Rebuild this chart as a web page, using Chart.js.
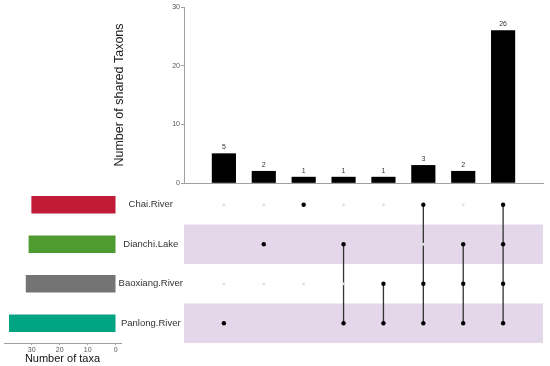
<!DOCTYPE html>
<html>
<head>
<meta charset="utf-8">
<script src="https://cdn.jsdelivr.net/npm/chart.js@4.4.1/dist/chart.umd.min.js"></script>
<style>
body { margin: 0; background: #fff; }
#wrap { position: relative; width: 550px; height: 366px; }
#wrap canvas { position: absolute; left: 0; top: 0; width: 550px; height: 366px; }
</style>
</head>
<body>
<div id="wrap">
  <canvas id="sets" width="550" height="366"></canvas>
  <canvas id="matrix" width="550" height="366"></canvas>
  <canvas id="inter" width="550" height="366"></canvas>
</div>
<script>
// Data
var sets = ["Chai.River", "Dianchi.Lake", "Baoxiang.River", "Panlong.River"];
var setSizes = [30, 31, 32, 38];
var intersectionCounts = [5, 2, 1, 1, 1, 3, 2, 26];
// rows (index in sets) that belong to each intersection column
var intersectionMembers = [[3], [1], [0], [1, 3], [2, 3], [0, 2, 3], [1, 2, 3], [0, 1, 2, 3]];
var sharedTicks = [0, 10, 20, 30];
var taxaTicks = [0, 10, 20, 30];

var setColors = ["#c11b37", "#4e9c31", "#747474", "#00a482"];
var axisGrey = "#a0a0a0";

Chart.defaults.font.family = "'Liberation Sans', Arial, sans-serif";

// numbers above the intersection bars
var barLabels = {
    id: "barLabels",
    afterDatasetsDraw: function (chart) {
        var ctx = chart.ctx;
        var meta = chart.getDatasetMeta(0);
        ctx.save();
        ctx.font = "7px 'Liberation Sans', Arial, sans-serif";
        ctx.fillStyle = "#333";
        ctx.textAlign = "center";
        ctx.textBaseline = "bottom";
        meta.data.forEach(function (bar, i) {
            ctx.fillText(String(intersectionCounts[i]), bar.x, bar.y - 3);
        });
        ctx.restore();
    }
};

// purple stripes behind every second set row
var rowBands = {
    id: "rowBands",
    beforeDatasetsDraw: function (chart) {
        var ctx = chart.ctx;
        var area = chart.chartArea;
        var y = chart.scales.y;
        ctx.save();
        ctx.fillStyle = "#e3d7e9";
        sets.forEach(function (s, r) {
            if (r % 2 === 1) {
                var y0 = y.getPixelForValue(r - 0.5);
                var y1 = y.getPixelForValue(r + 0.5);
                ctx.fillRect(area.left, y0, area.right - area.left, y1 - y0);
            }
        });
        ctx.restore();
    }
};

// Intersection size bars (top)
var interChart = new Chart(document.getElementById("inter"), {
    type: "bar",
    data: {
        datasets: [{
            data: intersectionCounts.map(function (v, i) { return { x: i + 1, y: v }; }),
            backgroundColor: "#000",
            barThickness: 23.5
        }]
    },
    options: {
        responsive: false,
        animation: false,
        layout: { padding: { left: 0, right: 7, top: 7, bottom: 0 } },
        plugins: { legend: { display: false }, tooltip: { enabled: false } },
        scales: {
            x: {
                type: "linear", min: 0, max: 9, offset: false,
                grid: { display: false, offset: false },
                border: { color: axisGrey, width: 1 },
                ticks: { display: false },
                afterFit: function (s) { s.height = 366 - 183; }
            },
            y: {
                min: 0, max: 30,
                afterBuildTicks: function (s) { s.ticks = sharedTicks.map(function (v) { return { value: v }; }); },
                grid: { drawOnChartArea: false, tickLength: 3, color: axisGrey },
                border: { color: axisGrey, width: 1 },
                ticks: { font: { size: 7 }, color: "#555", padding: 1 },
                title: {
                    display: true, text: "Number of shared Taxons",
                    font: { size: 12.5 }, color: "#222",
                    padding: { top: 112, bottom: 0 }
                },
                afterFit: function (s) { s.width = 184; }
            }
        }
    },
    plugins: [barLabels]
});

// Matrix of dots
var dotData = [], dotColors = [], dotRadius = [];
intersectionMembers.forEach(function (members, i) {
    sets.forEach(function (s, r) {
        var on = members.indexOf(r) >= 0;
        dotData.push({ x: i + 1, y: r });
        dotColors.push(on ? "#000" : "#e2e2e2");
        dotRadius.push(on ? 2.2 : 1.5);
    });
});
var matrixSets = [{
    type: "scatter",
    data: dotData,
    pointBackgroundColor: dotColors,
    pointBorderWidth: 0,
    pointRadius: dotRadius
}];
intersectionMembers.forEach(function (members, i) {
    if (members.length > 1) {
        matrixSets.push({
            type: "line",
            data: [{ x: i + 1, y: Math.min.apply(null, members) }, { x: i + 1, y: Math.max.apply(null, members) }],
            borderColor: "#333",
            borderWidth: 1.3,
            pointRadius: 0
        });
    }
});

var matrixChart = new Chart(document.getElementById("matrix"), {
    type: "scatter",
    data: { datasets: matrixSets },
    options: {
        responsive: false,
        animation: false,
        layout: { padding: { left: 100, right: 7, top: 185, bottom: 23 } },
        plugins: { legend: { display: false }, tooltip: { enabled: false } },
        scales: {
            x: { type: "linear", min: 0, max: 9, display: false },
            y: {
                type: "linear", min: -0.5, max: 3.5, reverse: true,
                afterBuildTicks: function (s) { s.ticks = sets.map(function (n, i) { return { value: i }; }); },
                grid: { display: false, drawTicks: false },
                border: { display: false },
                ticks: {
                    font: { size: 9.5 }, color: "#333", padding: 1, crossAlign: "center",
                    callback: function (v) { return sets[v]; }
                },
                afterFit: function (s) { s.width = 84; }
            }
        }
    },
    plugins: [rowBands]
});

// Set size bars (left)
var setsChart = new Chart(document.getElementById("sets"), {
    type: "bar",
    data: {
        labels: sets,
        datasets: [{ data: setSizes, backgroundColor: setColors, barThickness: 17 }]
    },
    options: {
        indexAxis: "y",
        responsive: false,
        animation: false,
        layout: { padding: { left: 4, right: 429, top: 185, bottom: 0 } },
        plugins: { legend: { display: false }, tooltip: { enabled: false } },
        scales: {
            x: {
                min: -1.9, max: 39.9, reverse: true,
                afterBuildTicks: function (s) { s.ticks = taxaTicks.map(function (v) { return { value: v }; }); },
                grid: { drawOnChartArea: false, tickLength: 2, color: axisGrey },
                border: { color: axisGrey, width: 1 },
                ticks: { font: { size: 7 }, color: "#555", padding: 1, maxRotation: 0 },
                title: {
                    display: true, text: "Number of taxa",
                    font: { size: 11 }, color: "#111",
                    padding: { top: 0, bottom: 0 }
                },
                afterFit: function (s) { s.height = 23; }
            },
            y: { display: false }
        }
    }
});
</script>
</body>
</html>
